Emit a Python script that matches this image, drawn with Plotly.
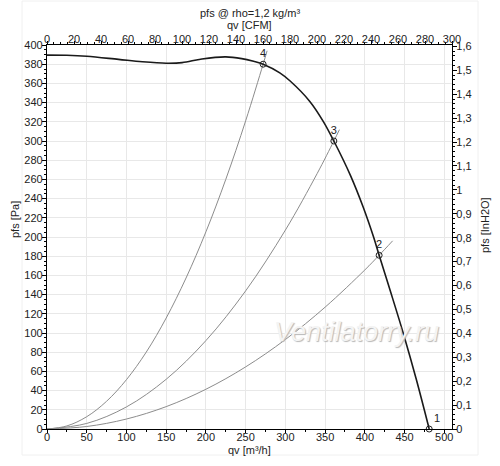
import plotly.graph_objects as go

# Fan curve (qv in m³/h, pfs in Pa)
fan_qv = [0, 25, 50, 90, 120, 150, 170, 195, 225, 245, 260, 272, 293, 306, 331, 348, 361, 382, 398, 411, 418, 432, 449, 465, 481]
fan_p = [389.5, 389.3, 388.3, 385, 382.5, 381, 381.6, 385.5, 387.6, 385.8, 383, 380, 371, 362.5, 341, 320, 300, 264, 231, 200, 181, 144, 98, 51, 0]

# System curves
sys4_qv = [0, 25, 50, 75, 100, 125, 150, 175, 200, 225, 250, 272, 277]
sys4_p = [0, 3.2, 12.8, 28.9, 51.4, 80.2, 115.6, 157.3, 205.4, 260, 321, 380, 394]
sys3_qv = [0, 50, 100, 150, 200, 250, 300, 340, 361, 368]
sys3_p = [0, 5.8, 23.0, 51.8, 92.1, 143.9, 207.2, 266.1, 300, 311.8]
sys2_qv = [0, 50, 100, 150, 200, 250, 300, 350, 400, 418, 435]
sys2_p = [0, 2.6, 10.4, 23.3, 41.4, 64.7, 93.2, 126.9, 165.7, 181, 196]

# Operating points
op_qv = [481, 418, 361, 272]
op_p = [0, 181, 300, 380]
op_labels = ["1", "2", "3", "4"]

title_text = "pfs @ rho=1,2 kg/m³"
x_title = "qv [m³/h]"
x2_title = "qv [CFM]"
y_title = "pfs [Pa]"
y2_title = "pfs [InH2O]"
watermark = "Ventilatorry.ru"

M3H_PER_CFM = 1.699
PA_PER_INH2O = 249.089
X_MAX = 509.7
Y_MAX = 400

FONT = "Liberation Sans, Arial, sans-serif"
TXT = "#222222"

W, H = 500, 466
# plot area in page pixels
PL, PR, PT, PB = 47, 452, 45, 429


def px2paper_x(px):
    return (px - PL) / (PR - PL)


def px2paper_y(py):
    return (PB - py) / (PB - PT)


fan_cfm = [q / M3H_PER_CFM for q in fan_qv]
fan_inh2o = [p / PA_PER_INH2O for p in fan_p]

fig = go.Figure()
for qx, py in [(sys4_qv, sys4_p), (sys3_qv, sys3_p), (sys2_qv, sys2_p)]:
    fig.add_trace(go.Scatter(x=qx, y=py, mode="lines", line=dict(color="#8c8c8c", width=1, shape="spline"),
                             hoverinfo="skip", showlegend=False))
fig.add_trace(go.Scatter(x=fan_qv, y=fan_p, mode="lines",
                         line=dict(color="#1a1a1a", width=1.6, shape="spline", smoothing=1.0),
                         showlegend=False))
# same fan curve on the secondary axes, invisible, so those axes are drawn
invisible = dict(mode="lines", line=dict(width=0, color="rgba(0,0,0,0)"), hoverinfo="skip", showlegend=False)
fig.add_trace(go.Scatter(x=fan_cfm, y=fan_inh2o, xaxis="x2", yaxis="y2", **invisible))
fig.add_trace(go.Scatter(x=fan_cfm, y=fan_p, xaxis="x3", yaxis="y", **invisible))
fig.add_trace(go.Scatter(x=fan_qv, y=fan_p, xaxis="x4", yaxis="y", **invisible))
fig.add_trace(go.Scatter(x=op_qv, y=op_p, mode="markers+text", text=op_labels,
                         textposition=["top right", "top center", "top center", "top center"],
                         textfont=dict(family=FONT, size=11, color=TXT),
                         marker=dict(symbol="circle-open", size=6, color="#222", line=dict(width=1)),
                         cliponaxis=False, showlegend=False))

fig.add_annotation(text=watermark, x=389, y=101, xref="x", yref="y", showarrow=False,
                   font=dict(family=FONT, size=27, color="#f4f4f4", style="italic",
                             shadow="1px 1px 1px #b8b8b8"))

txt_font = dict(family=FONT, size=11, color=TXT)
fig.add_annotation(text=title_text, xref="paper", yref="paper", x=0.5, y=px2paper_y(13),
                   showarrow=False, font=txt_font, xanchor="center", yanchor="middle")
fig.add_annotation(text=x2_title, xref="paper", yref="paper", x=0.5, y=px2paper_y(25),
                   showarrow=False, font=txt_font, xanchor="center", yanchor="middle")
fig.add_annotation(text=x_title, xref="paper", yref="paper", x=0.5, y=px2paper_y(450),
                   showarrow=False, font=txt_font, xanchor="center", yanchor="middle")
fig.add_annotation(text=y_title, xref="paper", yref="paper", x=px2paper_x(15), y=px2paper_y(220),
                   showarrow=False, font=txt_font, textangle=-90, xanchor="center", yanchor="middle")
fig.add_annotation(text=y2_title, xref="paper", yref="paper", x=px2paper_x(485), y=px2paper_y(225),
                   showarrow=False, font=txt_font, textangle=-90, xanchor="center", yanchor="middle")

axis_common = dict(linecolor="black", linewidth=1.3,
                   tickcolor="black", tickfont=dict(family=FONT, size=11, color=TXT),
                   zeroline=False, mirror=False, automargin=False)
minor_small = dict(ticks="outside", ticklen=2, tickcolor="black", showgrid=False)

fig.update_layout(
    width=W, height=H,
    margin=dict(l=PL, r=W - PR, t=PT, b=H - PB),
    paper_bgcolor="white", plot_bgcolor="white",
    separators=", ",
    font=dict(family=FONT, size=11, color=TXT),
    # bottom axis: line, ticks, grid
    xaxis=dict(range=[0, X_MAX], dtick=50, tick0=0, showgrid=True, gridcolor="#e8e8e8", gridwidth=1,
               showline=True, ticks="outside", ticklen=3, showticklabels=False,
               minor=dict(dtick=25, **minor_small), **axis_common),
    # bottom axis labels
    xaxis4=dict(range=[0, X_MAX], dtick=50, tick0=0, overlaying="x", side="bottom",
                anchor="free", position=0, showgrid=False, showline=False, ticks="",
                showticklabels=True, **axis_common),
    yaxis=dict(range=[0, Y_MAX], dtick=20, tick0=0, showgrid=True, gridcolor="#e8e8e8", gridwidth=1,
               showline=True, ticks="outside", ticklen=4, ticklabelstandoff=-3,
               minor=dict(dtick=5, **minor_small), **axis_common),
    # top axis: line and ticks only
    xaxis2=dict(range=[0, X_MAX / M3H_PER_CFM], dtick=20, tick0=0, overlaying="x", side="top", anchor="y",
                showgrid=False, showline=True, ticks="outside", ticklen=3, showticklabels=False,
                minor=dict(dtick=5, **minor_small), **axis_common),
    # top axis labels
    xaxis3=dict(range=[0, X_MAX / M3H_PER_CFM], dtick=20, tick0=0, overlaying="x", side="top",
                anchor="free", position=1, showgrid=False, showline=False, ticks="",
                showticklabels=True, **axis_common),
    yaxis2=dict(range=[0, Y_MAX / PA_PER_INH2O], dtick=0.1, tick0=0, overlaying="y", side="right", anchor="x",
                showgrid=False, showline=True, ticks="outside", ticklen=4, ticklabelstandoff=-3,
                minor=dict(dtick=0.02, **minor_small), **axis_common),
    shapes=[dict(type="rect", xref="paper", yref="paper",
                 x0=px2paper_x(22), x1=px2paper_x(478), y0=px2paper_y(455), y1=px2paper_y(1),
                 line=dict(color="#f0f0f0", width=1), fillcolor="rgba(0,0,0,0)", layer="below")],
)

fig.write_html("out.html", config={"displayModeBar": False},
               post_script="document.body.style.margin='0px';")
